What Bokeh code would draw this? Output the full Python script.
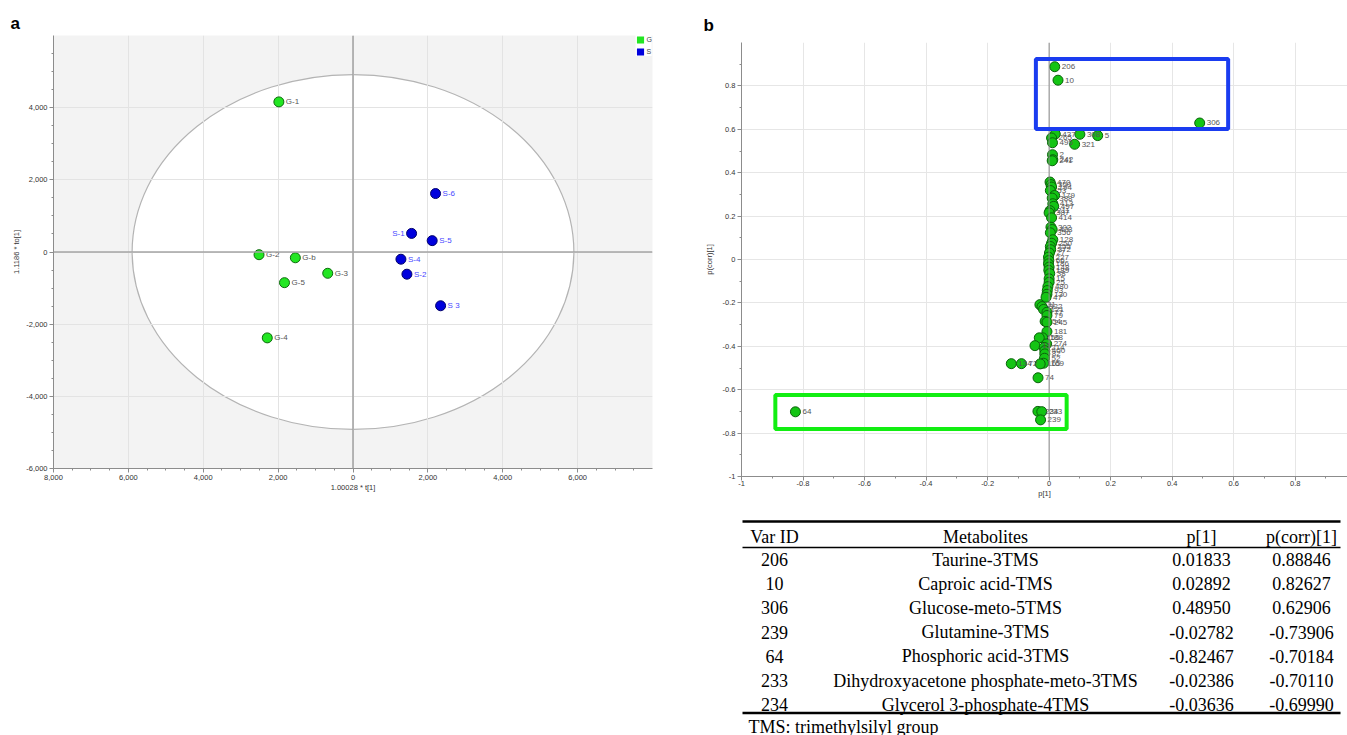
import numpy as np
from bokeh.plotting import figure
from bokeh.models import (Range1d, FixedTicker, Span, BoxAnnotation,
                          Legend, LegendItem)
from bokeh.layouts import row, column
from bokeh.embed import file_html
from bokeh.resources import INLINE
from bokeh.core.properties import value

# ---------------- Panel a: OPLS-DA score plot ----------------
g_labels = ["G-1", "G-2", "G-b", "G-3", "G-5", "G-4"]
g_x = [-1980, -2510, -1540, -675, -1830, -2290]
g_y = [4160, -75, -160, -590, -850, -2380]
s_labels = ["S-6", "S-1", "S-5", "S-4", "S-2", "S 3"]
s_x = [2205, 1565, 2115, 1280, 1440, 2340]
s_y = [1620, 515, 315, -200, -615, -1490]
ellipse_ax = [5900, 4920]          # Hotelling T2 ellipse semi-axes
a_xticks = [-8000, -6000, -4000, -2000, 0, 2000, 4000, 6000]
a_xtick_labels = ["8,000", "6,000", "4,000", "2,000", "0", "2,000", "4,000", "6,000"]
a_yticks = [-6000, -4000, -2000, 0, 2000, 4000]
a_ytick_labels = ["-6,000", "-4,000", "-2,000", "0", "2,000", "4,000"]

# ---------------- Panel b: S-plot ----------------
var_ids = ["206", "10", "306", "437", "308", "5", "265", "495", "321", "2", "242", "241",
           "470", "350", "194", "53", "179", "388", "413", "497", "211", "387", "414",
           "302", "423", "356", "128", "250", "255", "372", "27", "227", "66", "186",
           "148", "189", "38", "15", "25", "480", "93", "130", "47", "31", "322", "121",
           "77", "79", "54", "245", "181", "188", "155", "274", "13", "214", "400", "82",
           "52", "169", "165", "72", "134", "74", "64", "234", "233", "239"]
p1 = [0.01833, 0.02892, 0.48950, 0.020, 0.100, 0.158, 0.008, 0.011, 0.083, 0.011, 0.012, 0.010,
      0.003, 0.006, 0.008, 0.004, 0.018, 0.010, 0.012, 0.015, 0.003, 0.000, 0.008,
      0.006, 0.010, 0.004, 0.012, 0.008, 0.004, 0.005, 0.001, -0.002, -0.001, -0.002,
      0.000, -0.001, 0.002, 0.000, 0.000, -0.004, -0.006, -0.007, -0.010, -0.030, -0.023, -0.018,
      -0.007, -0.007, -0.013, -0.007, -0.007, -0.021, -0.032, -0.008, -0.046, -0.016, -0.014, -0.014,
      -0.015, -0.018, -0.029, -0.090, -0.123, -0.036, -0.82467, -0.03636, -0.02386, -0.02782]
pcorr = [0.88846, 0.82627, 0.62906, 0.578, 0.577, 0.571, 0.560, 0.538, 0.531, 0.483, 0.460, 0.455,
         0.357, 0.345, 0.334, 0.318, 0.295, 0.283, 0.257, 0.245, 0.225, 0.215, 0.192,
         0.149, 0.138, 0.123, 0.091, 0.075, 0.060, 0.045, 0.030, 0.011, -0.005, -0.020,
         -0.035, -0.050, -0.065, -0.089, -0.105, -0.125, -0.143, -0.160, -0.174, -0.208, -0.217, -0.230,
         -0.243, -0.258, -0.285, -0.289, -0.332, -0.361, -0.361, -0.389, -0.397, -0.405, -0.420, -0.435,
         -0.455, -0.478, -0.481, -0.480, -0.480, -0.545, -0.70184, -0.69990, -0.70110, -0.73906]
blue_box = [-0.043, 0.582, 0.601, 0.924]    # left, right, bottom, top
green_box = [-0.89, 0.057, -0.781, -0.624]
b_xticks = [-1, -0.8, -0.6, -0.4, -0.2, 0, 0.2, 0.4, 0.6, 0.8]
b_xtick_labels = ["-1", "-0.8", "-0.6", "-0.4", "-0.2", "0", "0.2", "0.4", "0.6", "0.8"]
b_yticks = [-1, -0.8, -0.6, -0.4, -0.2, 0, 0.2, 0.4, 0.6, 0.8]
b_ytick_labels = ["-1", "-0.8", "-0.6", "-0.4", "-0.2", "0", "0.2", "0.4", "0.6", "0.8"]

# ---------------- Table ----------------
tab_header = ["Var ID", "Metabolites", "p[1]", "p(corr)[1]"]
tab_ids = ["206", "10", "306", "239", "64", "233", "234"]
tab_names = ["Taurine-3TMS", "Caproic acid-TMS", "Glucose-meto-5TMS", "Glutamine-3TMS",
             "Phosphoric acid-3TMS", "Dihydroxyacetone phosphate-meto-3TMS",
             "Glycerol 3-phosphate-4TMS"]
tab_p1 = ["0.01833", "0.02892", "0.48950", "-0.02782", "-0.82467", "-0.02386", "-0.03636"]
tab_pcorr = ["0.88846", "0.82627", "0.62906", "-0.73906", "-0.70184", "-0.70110", "-0.69990"]
tab_note = "TMS: trimethylsilyl group"

AX_FONT = "Liberation Sans"


def style_axes(p):
    for ax in p.axis:
        ax.axis_line_color = "#8c8c8c"
        ax.major_tick_line_color = "#8c8c8c"
        ax.minor_tick_line_color = "#8c8c8c"
        ax.major_tick_out = 4
        ax.major_tick_in = 0
        ax.minor_tick_out = 2
        ax.minor_tick_in = 0
        ax.major_label_text_font_size = "7.5px"
        ax.major_label_text_font = AX_FONT
        ax.major_label_text_color = "#333333"
        ax.major_label_standoff = 2
        ax.axis_label_text_font_size = "7.5px"
        ax.axis_label_text_font = AX_FONT
        ax.axis_label_text_font_style = "normal"
        ax.axis_label_text_color = "#333333"
        ax.axis_label_standoff = 0


def panel_title(p, letter, offset, standoff):
    p.title.text = letter
    p.title.align = "left"
    p.title.offset = offset
    p.title.standoff = standoff
    p.title.text_font = AX_FONT
    p.title.text_font_size = "17px"
    p.title.text_font_style = "bold"
    p.title.text_color = "black"


# ======== Panel a ========
pa = figure(width=698, height=508, x_range=Range1d(a_xticks[0], -a_xticks[0]),
            y_range=Range1d(a_yticks[0], -a_yticks[0]),
            output_backend="svg", toolbar_location=None,
            min_border_left=53, min_border_right=46, min_border_top=35, min_border_bottom=40,
            background_fill_color="#f3f3f3", border_fill_color="white",
            outline_line_color=None)
pa.xaxis.ticker = FixedTicker(ticks=a_xticks, minor_ticks=list(range(-8000, 8000, 500)))
pa.yaxis.ticker = FixedTicker(ticks=a_yticks, minor_ticks=list(range(-6000, 6000, 500)))
pa.xaxis.major_label_overrides = dict(zip(a_xticks, a_xtick_labels))
pa.yaxis.major_label_overrides = dict(zip(a_yticks, a_ytick_labels))
pa.xaxis.axis_label = "1.00028 * t[1]"
pa.yaxis.axis_label = "1.1186 * to[1]"
style_axes(pa)
pa.yaxis.axis_label_standoff = 2
pa.grid.grid_line_color = "#e3e3e3"
pa.grid.grid_line_width = 1
panel_title(pa, "a", -43, 6)

pa.ellipse(x=[0], y=[0], width=[2 * ellipse_ax[0]], height=[2 * ellipse_ax[1]],
           fill_color="white", line_color="#b4b4b4", line_width=1.2, level="image")
pa.add_layout(Span(location=0, dimension="height", line_color="#a5a5a5", line_width=1.6))
pa.add_layout(Span(location=0, dimension="width", line_color="#a5a5a5", line_width=1.6))

pa.scatter(g_x, g_y, size=10, fill_color="#22e622", line_color="#0d6a0d", line_width=1)
pa.scatter(s_x, s_y, size=10, fill_color="#0000dd", line_color="#00006a", line_width=1)
pa.text(g_x, g_y, text=g_labels, x_offset=7, text_baseline="middle", text_align="left",
        text_font_size="8px", text_color="#555555", text_font=value(AX_FONT))
s_off = [-7 if lab == "S-1" else 7 for lab in s_labels]
s_al = ["right" if lab == "S-1" else "left" for lab in s_labels]
pa.text(s_x, s_y, text=s_labels, x_offset=s_off, text_align=s_al, text_baseline="middle",
        text_font_size="8px", text_color="#4848ff", text_font=value(AX_FONT))

nan = float("nan")
lg_g = pa.quad(left=[nan], right=[nan], top=[nan], bottom=[nan],
               fill_color="#22e622", line_color=None)
lg_s = pa.quad(left=[nan], right=[nan], top=[nan], bottom=[nan],
               fill_color="#0000dd", line_color=None)
legend = Legend(items=[LegendItem(label="G", renderers=[lg_g]),
                       LegendItem(label="S", renderers=[lg_s])],
                location="top_right", label_text_font_size="7px", label_text_font=AX_FONT,
                glyph_width=9, glyph_height=9, spacing=3, padding=7, margin=0,
                label_standoff=2, label_height=9, label_width=4,
                border_line_color=None,
                background_fill_color="white", background_fill_alpha=1)
pa.add_layout(legend)

# ======== Panel b ========
pb = figure(width=649, height=508, x_range=Range1d(-1, 0.97), y_range=Range1d(-1, 1.0),
            output_backend="svg", toolbar_location=None,
            min_border_left=43, min_border_right=0, min_border_top=42, min_border_bottom=32,
            background_fill_color="white", border_fill_color="white",
            outline_line_color=None)
pb.xaxis.ticker = FixedTicker(ticks=b_xticks, minor_ticks=list(np.round(np.arange(-1, 0.95, 0.1), 2)))
pb.yaxis.ticker = FixedTicker(ticks=b_yticks, minor_ticks=list(np.round(np.arange(-1, 1.0, 0.1), 2)))
pb.xaxis.major_label_overrides = dict(zip(b_xticks, b_xtick_labels))
pb.yaxis.major_label_overrides = dict(zip(b_yticks, b_ytick_labels))
pb.xaxis.axis_label = "p[1]"
pb.yaxis.axis_label = "p(corr)[1]"
style_axes(pb)
pb.xaxis.major_label_standoff = 0
pb.yaxis.axis_label_standoff = 6
pb.grid.grid_line_color = "#e6e6e6"
pb.add_layout(Span(location=0, dimension="height", line_color="#8a8a8a", line_width=1))
panel_title(pb, "b", -38, 15)

pb.scatter(p1, pcorr, size=10, fill_color="#14c414", line_color="#0b620b", line_width=1)
pb.text(p1, pcorr, text=var_ids, x_offset=7, text_baseline="middle", text_align="left",
        text_font_size="8px", text_color="#555555", text_font=value(AX_FONT))
pb.add_layout(BoxAnnotation(left=blue_box[0], right=blue_box[1], bottom=blue_box[2],
                            top=blue_box[3], fill_alpha=0, line_color="#1a3cf0",
                            line_alpha=1, line_width=4))
pb.add_layout(BoxAnnotation(left=green_box[0], right=green_box[1], bottom=green_box[2],
                            top=green_box[3], fill_alpha=0, line_color="#12ee12",
                            line_alpha=1, line_width=4))

# ======== Table ========
pt = figure(width=649, height=227, x_range=Range1d(741, 1347), y_range=Range1d(735, 508),
            output_backend="svg", toolbar_location=None, x_axis_type=None, y_axis_type=None,
            min_border_left=43, min_border_right=0, min_border_top=0, min_border_bottom=0,
            outline_line_color=None, background_fill_color="white",
            border_fill_color="white")
pt.grid.visible = False
col_x = [774, 985, 1201, 1301]
x0, x1 = 742, 1340
header_y, row0_y, row_h = 536, 559, 24.2
TFONT = value("Liberation Serif")
pt.segment(x0=[x0, x0, x0], y0=[521, 547, 712.5], x1=[x1, x1, x1], y1=[521, 547, 712.5],
           line_color="black", line_width=[2.5, 1.5, 2.5])
pt.text(x=col_x, y=[header_y] * 4, text=tab_header, text_align="center",
        text_baseline="middle", text_font=TFONT, text_font_size="18px", text_color="black")
row_y = [row0_y + i * row_h for i in range(len(tab_ids))]
for cx, vals in zip(col_x, [tab_ids, tab_names, tab_p1, tab_pcorr]):
    pt.text(x=[cx] * len(vals), y=row_y, text=vals, text_align="center",
            text_baseline="middle", text_font=TFONT, text_font_size="18px",
            text_color="black")
pt.text(x=[748], y=[726], text=[tab_note], text_align="left", text_baseline="middle",
        text_font=TFONT, text_font_size="18px", text_color="black")

layout = row(pa, column(pb, pt))
open("out.html", "w").write(file_html(layout, INLINE))
